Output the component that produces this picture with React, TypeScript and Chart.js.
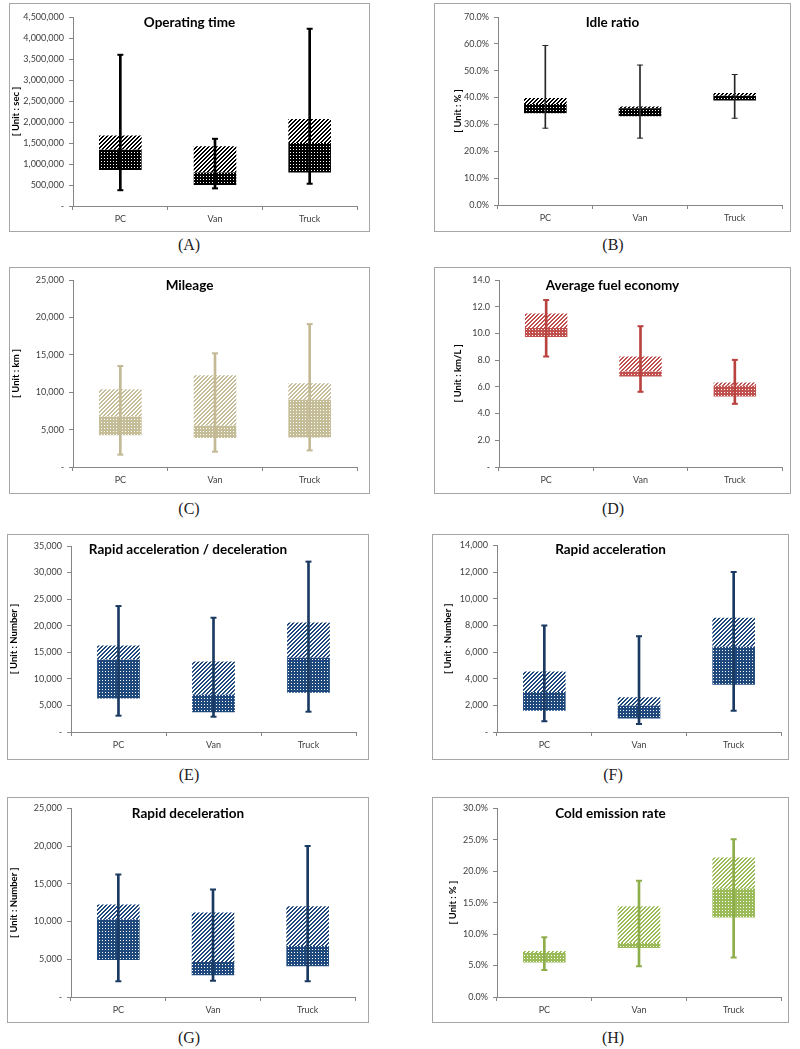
import React, { useEffect, useRef } from "react";
import { Chart, registerables } from "chart.js";
Chart.register(...registerables);

// ---------- data ----------
const categories = ["PC", "Van", "Truck"];

// (A) Operating time [sec]
const opMin = [376000, 420000, 530000];
const opQ1 = [856000, 500000, 800000];
const opMed = [1340000, 800000, 1500000];
const opQ3 = [1680000, 1424000, 2070000];
const opMax = [3600000, 1600000, 4220000];

// (B) Idle ratio [%]
const idleMin = [28.6, 24.9, 32.3];
const idleQ1 = [34.2, 33.0, 38.9];
const idleMed = [37.6, 36.0, 40.7];
const idleQ3 = [39.8, 36.7, 41.7];
const idleMax = [59.4, 52.1, 48.6];

// (C) Mileage [km]
const milMin = [1650, 2050, 2220];
const milQ1 = [4230, 3870, 3960];
const milMed = [6760, 5500, 9000];
const milQ3 = [10400, 12280, 11200];
const milMax = [13500, 15200, 19100];

// (D) Average fuel economy [km/L]
const fuelMin = [8.27, 5.63, 4.73];
const fuelQ1 = [9.74, 6.78, 5.28];
const fuelMed = [10.4, 7.15, 6.08];
const fuelQ3 = [11.5, 8.27, 6.33];
const fuelMax = [12.5, 10.54, 8.02];

// (E) Rapid acceleration / deceleration [Number]
const radMin = [3070, 2880, 3820];
const radQ1 = [6320, 3700, 7390];
const radMed = [13650, 7000, 13960];
const radQ3 = [16300, 13270, 20600];
const radMax = [23700, 21500, 32060];

// (F) Rapid acceleration [Number]
const raMin = [800, 600, 1600];
const raQ1 = [1600, 1020, 3540];
const raMed = [3000, 1970, 6390];
const raQ3 = [4540, 2600, 8580];
const raMax = [7990, 7190, 12000];

// (G) Rapid deceleration [Number]
const rdMin = [2080, 2170, 2080];
const rdQ1 = [4900, 2880, 4070];
const rdMed = [10300, 4650, 6770];
const rdQ3 = [12260, 11190, 12040];
const rdMax = [16240, 14250, 20000];

// (H) Cold emission rate [%]
const coldMin = [4.3, 4.9, 6.27];
const coldQ1 = [5.47, 7.8, 12.64];
const coldMed = [7.0, 8.6, 17.26];
const coldQ3 = [7.33, 14.45, 22.2];
const coldMax = [9.5, 18.48, 25.1];

// ---------- formatting ----------
const commas = (v: number) =>
  v === 0 ? "-" : String(Math.round(v)).replace(/\B(?=(\d{3})+(?!\d))/g, ",");
const pct1 = (v: number) => v.toFixed(1) + "%";
const dec1 = (v: number) => (v === 0 ? "-" : v.toFixed(1));

const FONT = "Lato, 'Open Sans', sans-serif";
const AXIS = "#868686";
const TICKTXT = "#404040";

type PanelCfg = {
  title: string;
  unit: string;
  caption: string;
  min: number[];
  q1: number[];
  med: number[];
  q3: number[];
  max: number[];
  yMax: number;
  yStep: number;
  fmt: (v: number) => string;
  boxColor: string;
  whiskerColor: string;
  whiskerWidth: number;
  left: number;
  top: number;
  width: number;
  height: number;
  plotL: number;
  plotR: number;
  plotT: number;
  plotB: number;
  unitX: number;
  titleY: number;
  capX: number;
  capY: number;
};

const BLUE = "#1F497D";
const BLUE_W = "#1B3A63";

const panels: PanelCfg[] = [
  {
    title: "Operating time", unit: "[ Unit : sec ]", caption: "(A)",
    min: opMin, q1: opQ1, med: opMed, q3: opQ3, max: opMax,
    yMax: 4500000, yStep: 500000, fmt: commas,
    boxColor: "#000000", whiskerColor: "#000000", whiskerWidth: 2,
    left: 9, top: 3, width: 361, height: 229,
    plotL: 73, plotR: 357, plotT: 17, plotB: 206, unitX: 16, titleY: 23, capX: 189, capY: 245,
  },
  {
    title: "Idle ratio", unit: "[ Unit : % ]", caption: "(B)",
    min: idleMin, q1: idleQ1, med: idleMed, q3: idleQ3, max: idleMax,
    yMax: 70, yStep: 10, fmt: pct1,
    boxColor: "#000000", whiskerColor: "#262626", whiskerWidth: 1,
    left: 434, top: 3, width: 357, height: 229,
    plotL: 498, plotR: 782, plotT: 17, plotB: 205, unitX: 458, titleY: 23, capX: 613, capY: 245,
  },
  {
    title: "Mileage", unit: "[ Unit : km ]", caption: "(C)",
    min: milMin, q1: milQ1, med: milMed, q3: milQ3, max: milMax,
    yMax: 25000, yStep: 5000, fmt: commas,
    boxColor: "#C4BD97", whiskerColor: "#C4B995", whiskerWidth: 2,
    left: 9, top: 267, width: 361, height: 227,
    plotL: 73, plotR: 357, plotT: 280, plotB: 467, unitX: 15, titleY: 286, capX: 189, capY: 509,
  },
  {
    title: "Average fuel economy", unit: "[ Unit : km/L ]", caption: "(D)",
    min: fuelMin, q1: fuelQ1, med: fuelMed, q3: fuelQ3, max: fuelMax,
    yMax: 14, yStep: 2, fmt: dec1,
    boxColor: "#C0504D", whiskerColor: "#B8433F", whiskerWidth: 2,
    left: 434, top: 267, width: 357, height: 227,
    plotL: 499, plotR: 782, plotT: 280, plotB: 467, unitX: 458, titleY: 286, capX: 613, capY: 509,
  },
  {
    title: "Rapid acceleration / deceleration", unit: "[ Unit : Number ]", caption: "(E)",
    min: radMin, q1: radQ1, med: radMed, q3: radQ3, max: radMax,
    yMax: 35000, yStep: 5000, fmt: commas,
    boxColor: BLUE, whiskerColor: BLUE_W, whiskerWidth: 2,
    left: 7, top: 534, width: 362, height: 226,
    plotL: 71, plotR: 356, plotT: 546, plotB: 732, unitX: 13, titleY: 550, capX: 189, capY: 775,
  },
  {
    title: "Rapid acceleration", unit: "[ Unit : Number ]", caption: "(F)",
    min: raMin, q1: raQ1, med: raMed, q3: raQ3, max: raMax,
    yMax: 14000, yStep: 2000, fmt: commas,
    boxColor: BLUE, whiskerColor: BLUE_W, whiskerWidth: 2,
    left: 432, top: 534, width: 357, height: 226,
    plotL: 497, plotR: 781, plotT: 545, plotB: 732, unitX: 448, titleY: 550, capX: 613, capY: 775,
  },
  {
    title: "Rapid deceleration", unit: "[ Unit : Number ]", caption: "(G)",
    min: rdMin, q1: rdQ1, med: rdMed, q3: rdQ3, max: rdMax,
    yMax: 25000, yStep: 5000, fmt: commas,
    boxColor: BLUE, whiskerColor: BLUE_W, whiskerWidth: 2,
    left: 7, top: 797, width: 362, height: 226,
    plotL: 71, plotR: 355, plotT: 808, plotB: 997, unitX: 13, titleY: 814, capX: 189, capY: 1038,
  },
  {
    title: "Cold emission rate", unit: "[ Unit : % ]", caption: "(H)",
    min: coldMin, q1: coldQ1, med: coldMed, q3: coldQ3, max: coldMax,
    yMax: 30, yStep: 5, fmt: pct1,
    boxColor: "#9BBB59", whiskerColor: "#8EAE4C", whiskerWidth: 2,
    left: 432, top: 797, width: 357, height: 226,
    plotL: 497, plotR: 781, plotT: 808, plotB: 997, unitX: 453, titleY: 814, capX: 613, capY: 1038,
  },
];

function makeHatch(ctx: CanvasRenderingContext2D, color: string) {
  const c = document.createElement("canvas");
  c.width = 4;
  c.height = 4;
  const g = c.getContext("2d")!;
  g.fillStyle = "#ffffff";
  g.fillRect(0, 0, 4, 4);
  g.fillStyle = color;
  for (let y = 0; y < 4; y++)
    for (let x = 0; x < 4; x++) if ((x + y) % 4 < 2) g.fillRect(x, y, 1, 1);
  return ctx.createPattern(c, "repeat")!;
}

function makeDots(ctx: CanvasRenderingContext2D, color: string) {
  const c = document.createElement("canvas");
  c.width = 3;
  c.height = 3;
  const g = c.getContext("2d")!;
  g.fillStyle = color;
  g.fillRect(0, 0, 3, 3);
  g.fillStyle = "#ffffff";
  g.fillRect(1, 1, 1, 1);
  return ctx.createPattern(c, "repeat")!;
}

function Panel({ cfg }: { cfg: PanelCfg }) {
  const ref = useRef<HTMLCanvasElement>(null);
  const cw = cfg.width - 2;
  const ch = cfg.height - 2;
  useEffect(() => {
    const canvas = ref.current!;
    const ctx = canvas.getContext("2d")!;
    const ox = cfg.left + 1;
    const oy = cfg.top + 1;
    const cl = cfg.plotL - ox;
    const cr = cfg.plotR - ox;
    const ct = cfg.plotT - oy;
    const cb = cfg.plotB - oy;
    const padLeft = Math.max(0, cfg.unitX - ox - 5.7);
    const yWidth = cl - padLeft;
    const xHeight = ch - cb;
    const hatch = makeHatch(ctx, cfg.boxColor);
    const dots = makeDots(ctx, cfg.boxColor);
    const titlePlugin = {
      id: "panelTitle",
      afterDraw(chart: any) {
        const c = chart.ctx;
        c.save();
        c.font = `bold 13.5px ${FONT}`;
        c.fillStyle = "#000";
        c.textAlign = "center";
        c.textBaseline = "middle";
        c.fillText(cfg.title, chart.width / 2, cfg.titleY - oy);
        c.restore();
      },
    };
    const chart = new Chart(canvas, {
      type: "bar",
      data: {
        labels: categories,
        datasets: [
          {
            type: "bar",
            data: categories.map((_, i) => [cfg.q1[i], cfg.med[i]]) as any,
            backgroundColor: dots,
            grouped: false,
            barPercentage: 0.45,
            categoryPercentage: 1,
            order: 3,
          } as any,
          {
            type: "bar",
            data: categories.map((_, i) => [cfg.med[i], cfg.q3[i]]) as any,
            backgroundColor: hatch,
            grouped: false,
            barPercentage: 0.45,
            categoryPercentage: 1,
            order: 3,
          } as any,
          {
            type: "bar",
            data: categories.map((_, i) => [cfg.min[i], cfg.max[i]]) as any,
            backgroundColor: cfg.whiskerColor,
            grouped: false,
            barThickness: cfg.whiskerWidth,
            order: 2,
          } as any,
          {
            type: "line",
            data: cfg.max,
            showLine: false,
            pointStyle: "line",
            pointRadius: 3,
            pointBorderWidth: cfg.whiskerWidth,
            pointBorderColor: cfg.whiskerColor,
            borderColor: cfg.whiskerColor,
            order: 1,
          } as any,
          {
            type: "line",
            data: cfg.min,
            showLine: false,
            pointStyle: "line",
            pointRadius: 3,
            pointBorderWidth: cfg.whiskerWidth,
            pointBorderColor: cfg.whiskerColor,
            borderColor: cfg.whiskerColor,
            order: 1,
          } as any,
        ],
      },
      options: {
        responsive: false,
        animation: false,
        events: [],
        layout: { padding: { left: padLeft, top: ct, right: cw - cr, bottom: 0 } },
        plugins: { legend: { display: false }, tooltip: { enabled: false }, title: { display: false } },
        scales: {
          x: {
            type: "category",
            offset: true,
            afterFit: (s: any) => {
              s.height = xHeight;
            },
            grid: {
              display: true,
              drawOnChartArea: false,
              drawTicks: true,
              tickLength: 4,
              color: AXIS,
              offset: true,
            },
            border: { display: true, color: AXIS },
            ticks: { font: { family: FONT, size: 9 }, color: TICKTXT, padding: 4, maxRotation: 0 },
          },
          y: {
            type: "linear",
            min: 0,
            max: cfg.yMax,
            afterFit: (s: any) => {
              s.width = yWidth;
            },
            grid: {
              display: true,
              drawOnChartArea: false,
              drawTicks: true,
              tickLength: 4,
              color: AXIS,
            },
            border: { display: true, color: AXIS },
            ticks: {
              stepSize: cfg.yStep,
              autoSkip: false,
              font: { family: FONT, size: 9 },
              color: TICKTXT,
              padding: 5,
              callback: (v: any) => cfg.fmt(Number(v)),
            },
            title: {
              display: true,
              text: cfg.unit,
              font: { family: FONT, size: 9.5, weight: "bold" },
              color: "#000",
              padding: 0,
            },
          },
        },
      } as any,
      plugins: [titlePlugin],
    });
    return () => chart.destroy();
  }, [cfg]);

  return (
    <>
      <div
        style={{
          position: "absolute",
          left: cfg.left,
          top: cfg.top,
          width: cfg.width,
          height: cfg.height,
          border: "1px solid #a6a6a6",
          boxSizing: "border-box",
          background: "#fff",
        }}
      >
        <canvas ref={ref} width={cw} height={ch} style={{ display: "block" }} />
      </div>
      <div
        style={{
          position: "absolute",
          left: cfg.capX - 40,
          top: cfg.capY - 10,
          width: 80,
          height: 20,
          lineHeight: "20px",
          textAlign: "center",
          fontFamily: "'Liberation Serif', 'DejaVu Serif', serif",
          fontSize: 16,
          color: "#222",
        }}
      >
        {cfg.caption}
      </div>
    </>
  );
}

export default function App() {
  return (
    <div
      style={{
        position: "absolute",
        left: 0,
        top: 0,
        width: 800,
        height: 1049,
        background: "#fff",
        overflow: "hidden",
      }}
    >
      {panels.map((p) => (
        <Panel key={p.caption} cfg={p} />
      ))}
    </div>
  );
}
